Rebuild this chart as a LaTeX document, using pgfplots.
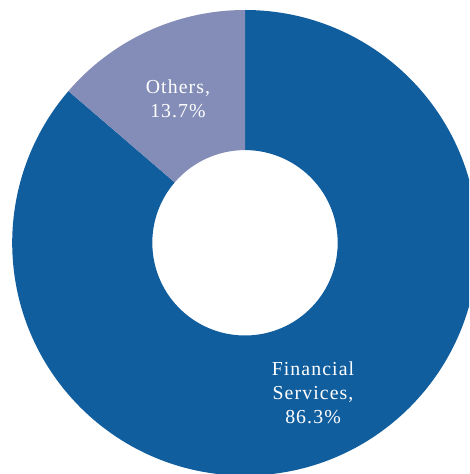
\documentclass[border=0pt]{standalone}
\usepackage{pgfplots}
\pgfplotsset{compat=1.18}
\usepackage{fontspec}
\setmainfont{Liberation Serif}
\newfontfamily\lblfont[LetterSpace=5.5]{Liberation Serif}
\definecolor{fin}{HTML}{115E9E}
\definecolor{oth}{HTML}{838DB8}
\begin{document}
\begin{tikzpicture}
% shares (percent)
\def\Fin{86.3}
\def\Oth{13.7}
\pgfmathsetmacro{\EndFin}{90-\Fin*3.6}
\pgfmathsetmacro{\EndOth}{\EndFin-\Oth*3.6}
\begin{axis}[name=ax, x=1pt, y=1pt, xmin=0, xmax=469, ymin=0, ymax=474,
  hide axis, clip=true, scale only axis]
\def\cx{245}\def\cy{231.2}
\fill[fin] ([shift={(90:232.8pt)}]axis cs:\cx,\cy) arc[start angle=90,end angle=\EndFin,radius=232.8pt]
  -- ([shift={(\EndFin:92.7pt)}]axis cs:\cx,\cy) arc[start angle=\EndFin,end angle=90,radius=92.7pt] -- cycle;
\fill[oth] ([shift={(\EndFin:232.8pt)}]axis cs:\cx,\cy) arc[start angle=\EndFin,end angle=\EndOth,radius=232.8pt]
  -- ([shift={(\EndOth:92.7pt)}]axis cs:\cx,\cy) arc[start angle=\EndOth,end angle=\EndFin,radius=92.7pt] -- cycle;
\node[text=white, align=center, font=\lblfont\fontsize{19.8}{24}\selectfont] at (axis cs:178,375) {Others,\\13.7\%};
\node[text=white, align=center, font=\lblfont\fontsize{19.8}{24}\selectfont] at (axis cs:313,81) {Financial\\Services,\\86.3\%};
\end{axis}
\pgfresetboundingbox
\path (ax.south west) rectangle (ax.north east);
\end{tikzpicture}
\end{document}
